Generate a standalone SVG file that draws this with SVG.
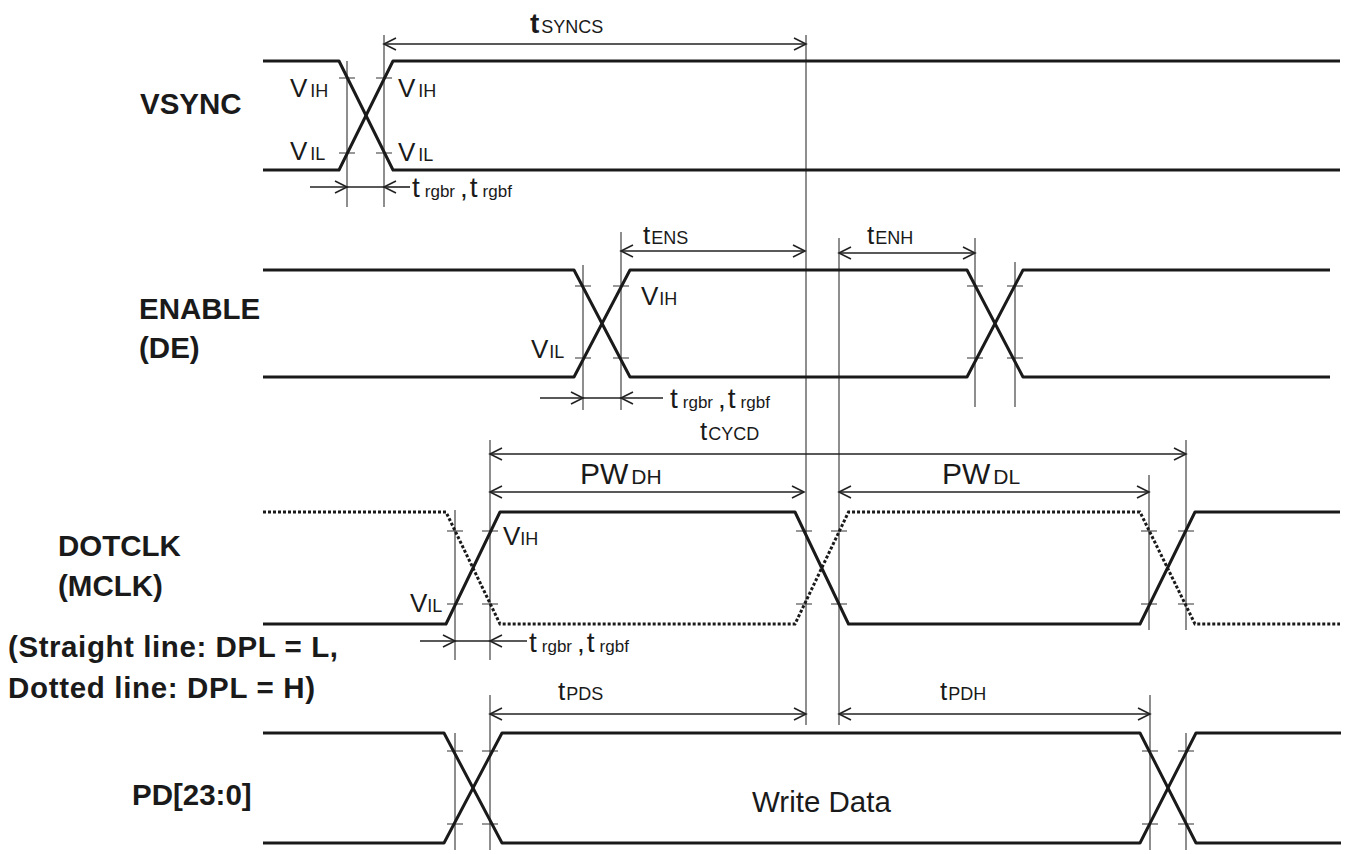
<svg xmlns="http://www.w3.org/2000/svg" width="1353" height="854" viewBox="0 0 1353 854">
<defs>
<marker id="ah" markerWidth="16" markerHeight="16" refX="0" refY="0" viewBox="-14 -8 16 16" orient="auto-start-reverse" markerUnits="userSpaceOnUse">
<path d="M -12 -6 L 0 0 L -12 6" fill="none" stroke="#222" stroke-width="1.6"/>
</marker>
</defs>
<style>
text{font-family:"Liberation Sans",Arial,sans-serif;fill:#1a1a1a}
.lbl{font-weight:bold;font-size:29.5px}
.big{font-size:26px}
.sub{font-size:18px}
.tr{font-size:28px}
.trs{font-size:17px}
.sig{fill:none;stroke:#1a1a1a;stroke-width:3;stroke-linejoin:round}
.dot{fill:none;stroke:#1a1a1a;stroke-width:3;stroke-dasharray:3 2}
.guide{fill:none;stroke:#444;stroke-width:1.2}
.tick{fill:none;stroke:#333;stroke-width:1.2}
.dim{fill:none;stroke:#222;stroke-width:1.6}
.dima{fill:none;stroke:#222;stroke-width:1.6;marker-start:url(#ah);marker-end:url(#ah)}
.dime{fill:none;stroke:#222;stroke-width:1.6;marker-end:url(#ah)}
</style>
<rect width="1353" height="854" fill="#fff"/>

<g id="labels">
<text class="lbl" x="140" y="114">VSYNC</text>
<text class="lbl" x="139" y="319">ENABLE</text>
<text class="lbl" x="139" y="358">(DE)</text>
<text class="lbl" x="58" y="556">DOTCLK</text>
<text class="lbl" x="58" y="596">(MCLK)</text>
<text class="lbl" x="8" y="657" textLength="330" lengthAdjust="spacing">(Straight line: DPL = L,</text>
<text class="lbl" x="8" y="698" textLength="307" lengthAdjust="spacing">Dotted line: DPL = H)</text>
<text class="lbl" x="132" y="805">PD[23:0]</text>
</g>

<g id="guides">
<path class="guide" d="M347 61V207M384 35V207"/>
<path class="guide" d="M806 35V725M839 238V725"/>
<path class="guide" d="M583 265V410M621 232V410M975 238V407M1015 262V407"/>
<path class="guide" d="M455 510V660M490 440V660M1149 475V630M1186 440V630"/>
<path class="guide" d="M455 733V850M490 695V850M1150 695V850M1186 733V850"/>
</g>

<g id="ticks">
<path class="tick" d="M339 78h16M376 78h16M339 153h16M376 153h16"/>
<path class="tick" d="M575 286h16M613 286h16M575 358h16M613 358h16M967 286h16M1007 286h16M967 358h16M1007 358h16"/>
<path class="tick" d="M447 531h16M482 531h16M447 604h16M482 604h16M796 531h16M831 531h16M796 604h16M831 604h16M1141 531h16M1178 531h16M1141 604h16M1178 604h16"/>
<path class="tick" d="M447 751h16M482 751h16M447 824h16M482 824h16M1142 751h16M1178 751h16M1142 824h16M1178 824h16"/>
</g>

<g id="vsync">
<path class="sig" d="M263 61H339L393 170H1340"/>
<path class="sig" d="M263 170H339L393 61H1340"/>
<text class="big" x="290" y="97">V<tspan class="sub" dx="3">IH</tspan></text>
<text class="big" x="290" y="160">V<tspan class="sub" dx="3">IL</tspan></text>
<text class="big" x="398" y="97">V<tspan class="sub" dx="3">IH</tspan></text>
<text class="big" x="398" y="161">V<tspan class="sub" dx="3">IL</tspan></text>
</g>

<g id="enable">
<path class="sig" d="M263 270H574L630 377H967L1023 270H1330"/>
<path class="sig" d="M263 377H574L630 270H967L1023 377H1330"/>
<text class="big" x="641" y="305">V<tspan class="sub" dx="1">IH</tspan></text>
<text class="big" x="531" y="358">V<tspan class="sub" dx="1">IL</tspan></text>
</g>

<g id="dotclk">
<path class="sig" d="M263 624H446L500 512H795L848.5 624H1140L1195 512H1340"/>
<path class="dot" d="M263 512H446L500 624H795L848.5 512H1140L1195 624H1340"/>
<text class="big" x="503" y="545">V<tspan class="sub" dx="0">IH</tspan></text>
<text class="big" x="410" y="612">V<tspan class="sub" dx="0">IL</tspan></text>
</g>

<g id="pd">
<path class="sig" d="M263 733H444L502 843H1140L1196 733H1341"/>
<path class="sig" d="M263 843H444L502 733H1140L1196 843H1341"/>
<text x="752" y="812" font-size="29.5">Write Data</text>
</g>

<g id="connectors">
<line class="dima" x1="384" y1="44" x2="806" y2="44"/>
<line class="dima" x1="621" y1="251" x2="805" y2="251"/>
<line class="dima" x1="839" y1="253" x2="975" y2="253"/>
<line class="dima" x1="490" y1="454" x2="1186" y2="454"/>
<line class="dima" x1="490" y1="492" x2="804" y2="492"/>
<line class="dima" x1="839" y1="492" x2="1149" y2="492"/>
<line class="dima" x1="490" y1="714" x2="806" y2="714"/>
<line class="dima" x1="839" y1="714" x2="1150" y2="714"/>
<line class="dime" x1="310" y1="187" x2="347" y2="187"/>
<line class="dim" x1="347" y1="187" x2="384" y2="187"/>
<line class="dime" x1="410" y1="187" x2="384" y2="187"/>
<line class="dime" x1="540" y1="398" x2="583" y2="398"/>
<line class="dim" x1="583" y1="398" x2="621" y2="398"/>
<line class="dime" x1="663" y1="398" x2="621" y2="398"/>
<line class="dime" x1="420" y1="641" x2="455" y2="641"/>
<line class="dim" x1="455" y1="641" x2="490" y2="641"/>
<line class="dime" x1="527" y1="641" x2="490" y2="641"/>
</g>

<g id="dimlabels">
<text class="tr" x="530" y="33" font-weight="bold">t<tspan class="sub" font-size="19" font-weight="normal" dx="2">SYNCS</tspan></text>
<text class="big" x="643" y="244">t<tspan class="sub" dx="1">ENS</tspan></text>
<text class="big" x="867" y="244">t<tspan class="sub" dx="1">ENH</tspan></text>
<text class="big" x="700" y="440">t<tspan class="sub" dx="1">CYCD</tspan></text>
<text x="580" y="484" font-size="30">PW<tspan font-size="21" dx="3">DH</tspan></text>
<text x="942" y="484" font-size="30">PW<tspan font-size="21" dx="3">DL</tspan></text>
<text class="big" x="558" y="700">t<tspan class="sub" dx="1">PDS</tspan></text>
<text class="big" x="940" y="700">t<tspan class="sub" dx="1">PDH</tspan></text>
<text class="tr" x="412" y="197">t<tspan class="trs" dx="5">rgbr</tspan><tspan dx="5">,</tspan><tspan dx="2">t</tspan><tspan class="trs" dx="5">rgbf</tspan></text>
<text class="tr" x="670" y="408">t<tspan class="trs" dx="5">rgbr</tspan><tspan dx="5">,</tspan><tspan dx="2">t</tspan><tspan class="trs" dx="5">rgbf</tspan></text>
<text class="tr" x="529" y="652">t<tspan class="trs" dx="5">rgbr</tspan><tspan dx="5">,</tspan><tspan dx="2">t</tspan><tspan class="trs" dx="5">rgbf</tspan></text>
</g>
</svg>
